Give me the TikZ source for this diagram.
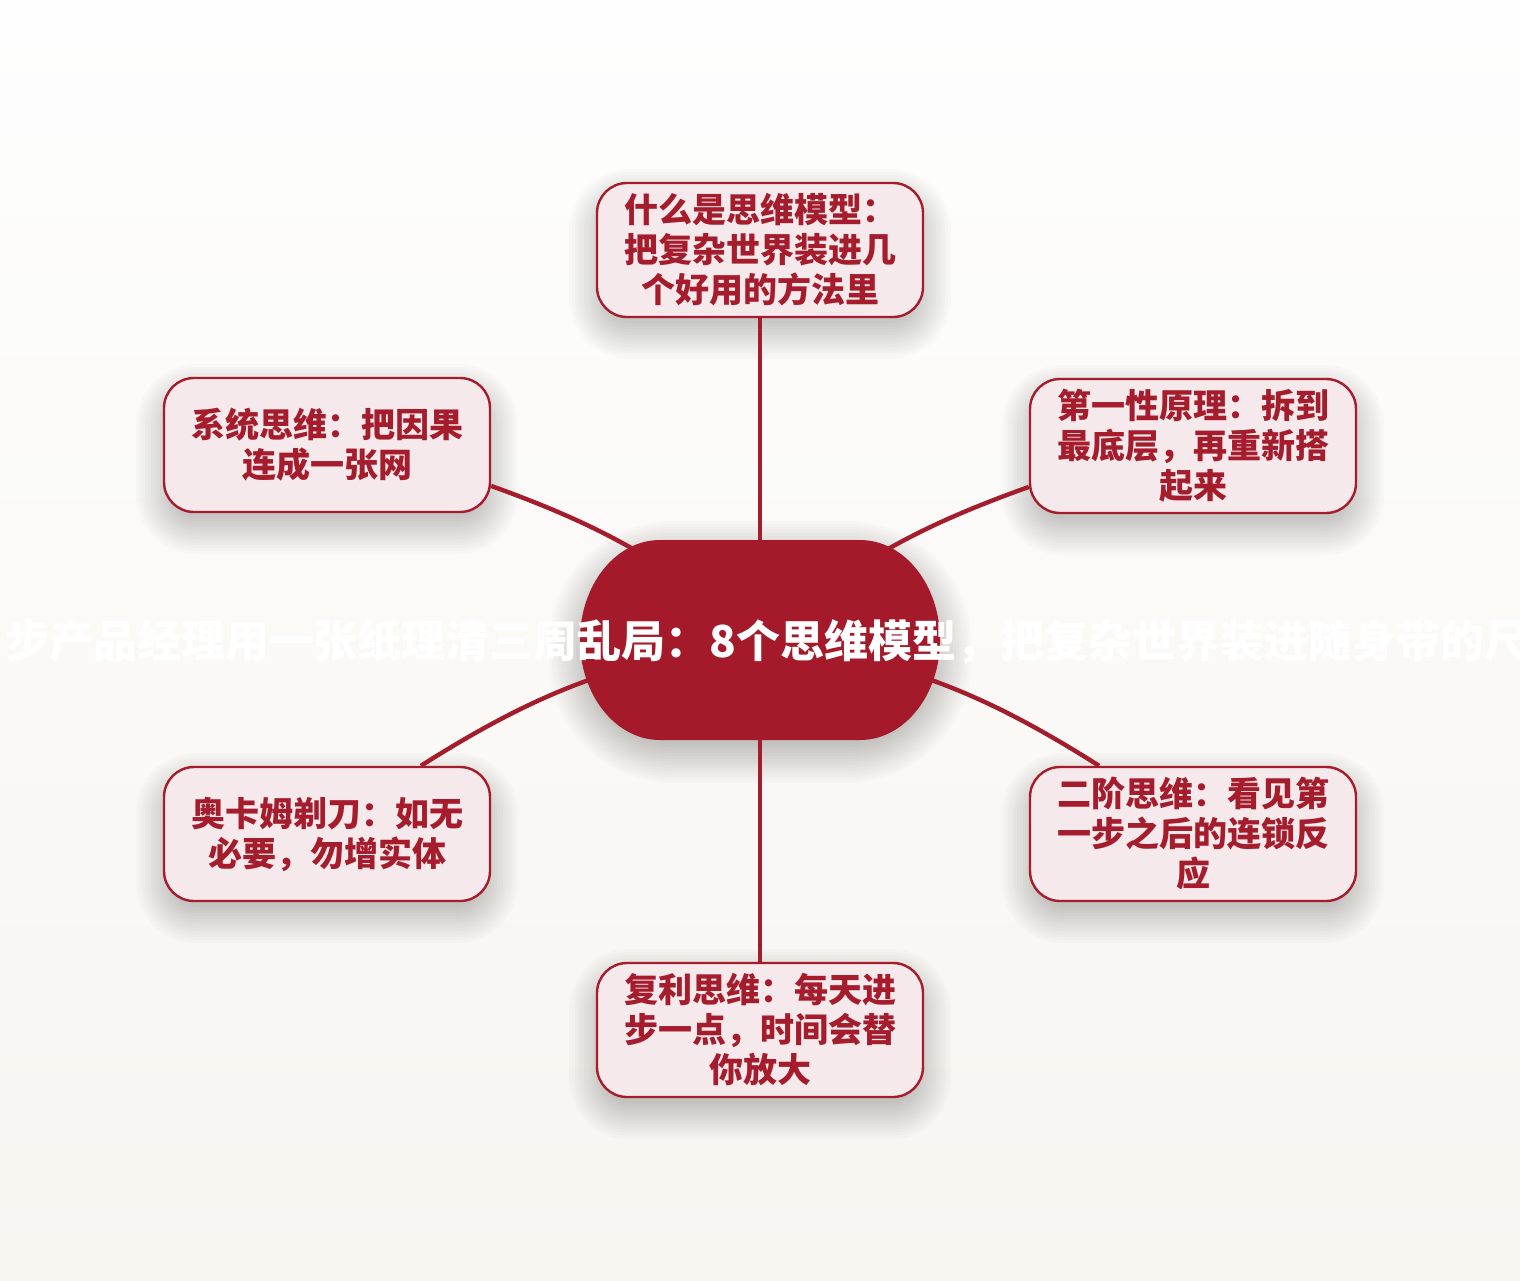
\documentclass[tikz,border=0pt]{standalone}
\usepackage{fontspec}
\newfontfamily\cjk{Noto Sans CJK SC}
\definecolor{mred}{HTML}{A51C2C}
\definecolor{cred}{HTML}{A51A2A}
\definecolor{boxfill}{HTML}{F5E9EC}
\definecolor{bgtop}{HTML}{FEFEFE}
\definecolor{bgbot}{HTML}{F7F5F0}
\newcommand\mshadow[4]{%
  \foreach \i in {0,...,12}{%
    \pgfmathsetmacro\rr{24+\i*3}%
    \fill[black,opacity=0.014,rounded corners=\rr pt]
      (#1-#3+8-\i*3, #2-#4+8-\i*3+14) rectangle (#1+#3-8+\i*3, #2+#4-8+\i*3+14);
  }}
\begin{document}
\begin{tikzpicture}[x=1pt,y=-1pt,
  mbox/.style={draw=mred, line width=2.4pt, fill=boxfill, rounded corners=30pt,
    minimum width=326pt, minimum height=134pt, inner sep=0pt, align=center,
    text=mred, font=\cjk\bfseries\fontsize{34}{40}\selectfont},
  link/.style={draw=mred, line width=4.4pt},
  titletext/.style={text=white, inner sep=0pt, font=\cjk\bfseries\fontsize{44}{50}\selectfont}
]
\useasboundingbox (0,0) rectangle (1520,1280);
\shade[top color=bgtop,bottom color=bgbot] (0,0) rectangle (1520,1280);
\clip (0,0) rectangle (1520,1280);
% shadows
\mshadow{760}{250}{163}{67}
\mshadow{327}{445}{163}{67}
\mshadow{1193}{446}{163}{67}
\mshadow{327}{834}{163}{67}
\mshadow{1193}{834}{163}{67}
\mshadow{760}{1030}{163}{67}
\foreach \i in {0,...,13}{%
  \pgfmathsetmacro\rr{84+\i*3}%
  \fill[black,opacity=0.016,rounded corners=\rr pt]
    (588-\i*3, 548-\i*3+12) rectangle (932+\i*3, 732+\i*3+12);
}
% boxes
\node[mbox] (t) at (760,250) {什么是思维模型：\\把复杂世界装进几\\个好用的方法里};
\node[mbox] (tl) at (327,445) {系统思维：把因果\\连成一张网};
\node[mbox] (tr) at (1193,446) {第一性原理：拆到\\最底层，再重新搭\\起来};
\node[mbox] (bl) at (327,834) {奥卡姆剃刀：如无\\必要，勿增实体};
\node[mbox] (br) at (1193,834) {二阶思维：看见第\\一步之后的连锁反\\应};
\node[mbox] (b) at (760,1030) {复利思维：每天进\\步一点，时间会替\\你放大};
\coordinate (c) at (760,640);
% connectors
\draw[link] (t.south) -- (c);
\draw[link] (b.north) -- (c);
\draw[link] (tl.-14) to[bend left=10] (c);
\draw[link] (tr.194) to[bend right=10] (c);
\draw[link] (bl.36) to[bend left=12] (c);
\draw[link] (br.144) to[bend right=12] (c);
% center
\fill[cred] (660,540) -- (860,540) .. controls (904.2,540) and (940,584.8) .. (940,640)
  .. controls (940,695.2) and (904.2,740) .. (860,740) -- (660,740)
  .. controls (615.8,740) and (580,695.2) .. (580,640)
  .. controls (580,584.8) and (615.8,540) .. (660,540) -- cycle;
\node[titletext] (title) at (767,642) {步产品经理用一张纸理清三周乱局：8个思维模型，把复杂世界装进随身带的尺};
\end{tikzpicture}
\end{document}
